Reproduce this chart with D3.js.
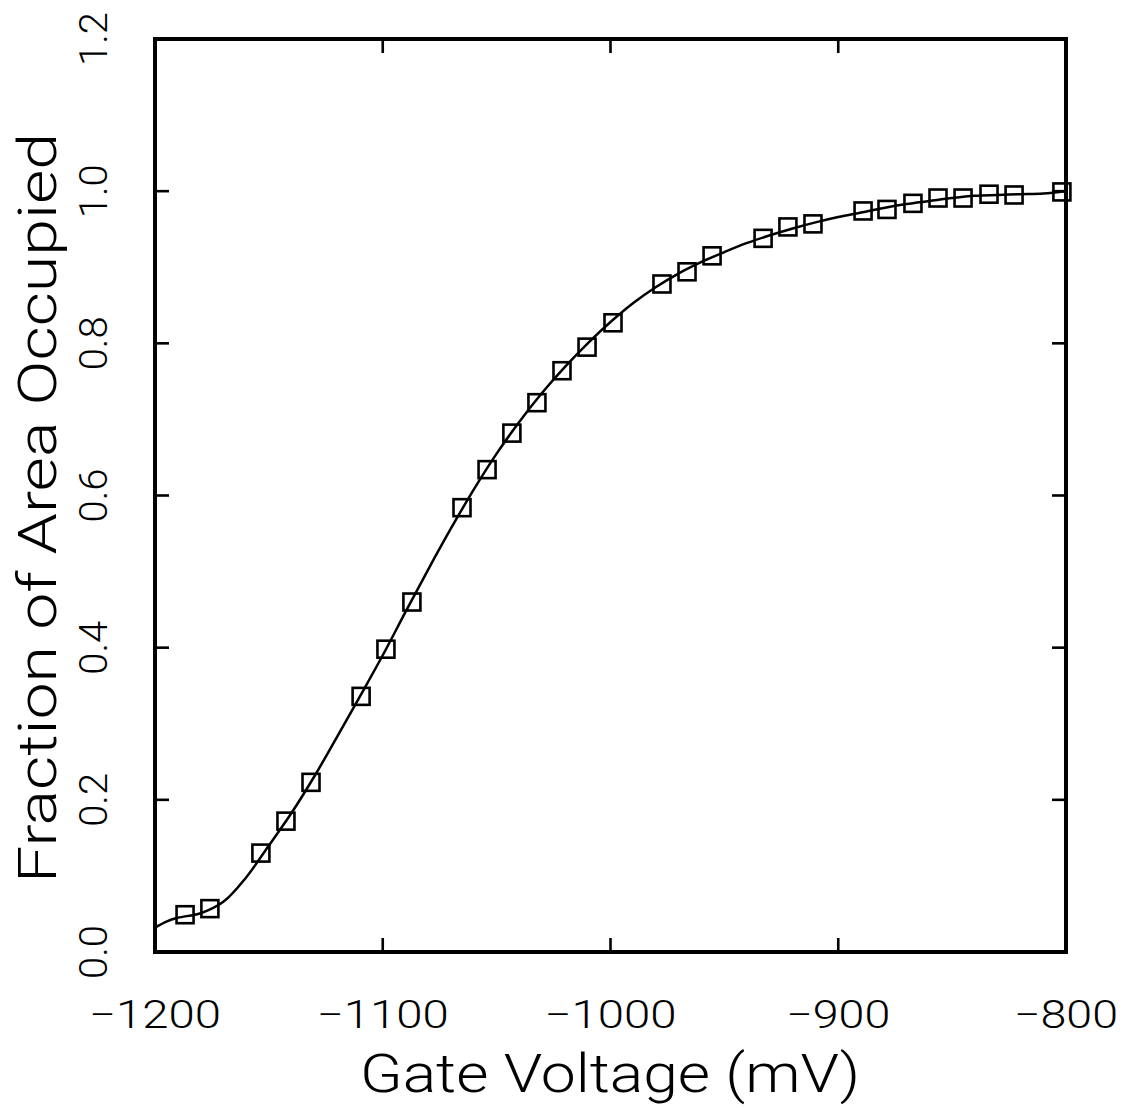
<!DOCTYPE html>
<html>
<head>
<meta charset="utf-8">
<script src="https://cdn.jsdelivr.net/npm/d3@7"></script>
<style>
  html, body { margin: 0; padding: 0; background: #fff; }
  svg { display: block; }
  text { font-family: Roboto, "DejaVu Sans", sans-serif; font-weight: 300; fill: #000; }
</style>
</head>
<body>
<svg id="chart" width="1134" height="1108"></svg>
<script>
// Measured gate voltages (mV) and fraction of area occupied
const voltage = [-1186.8, -1175.9, -1153.5, -1142.5, -1131.5, -1109.5, -1098.6, -1087.2,
  -1065.2, -1054.2, -1043.3, -1032.3, -1021.3, -1010.3, -998.9, -977.4, -966.4, -955.4,
  -933.0, -922.1, -911.1, -889.1, -878.6, -867.2, -856.2, -845.2, -833.8, -822.8, -801.8];
const fraction = [0.049, 0.057, 0.130, 0.172, 0.223, 0.336, 0.398, 0.460,
  0.584, 0.634, 0.682, 0.722, 0.764, 0.795, 0.827, 0.878, 0.894, 0.915,
  0.938, 0.953, 0.957, 0.974, 0.976, 0.984, 0.991, 0.991, 0.996, 0.995, 0.999];

// Smooth fitted curve through the measurements
const fitVoltage = [-1200, -1195, -1190, -1180, -1170, -1160, -1150, -1140, -1130, -1120,
  -1110, -1100, -1090, -1080, -1070, -1060, -1050, -1040, -1030, -1020, -1010, -1000,
  -990, -980, -970, -960, -950, -940, -930, -920, -910, -900, -890, -880, -870, -860,
  -850, -840, -830, -820, -810, -800];
const fitFraction = [0.032, 0.040, 0.045, 0.051, 0.066, 0.098, 0.140, 0.183, 0.231, 0.283,
  0.336, 0.390, 0.447, 0.503, 0.557, 0.608, 0.655, 0.697, 0.735, 0.769, 0.800, 0.828,
  0.853, 0.874, 0.892, 0.907, 0.920, 0.932, 0.942, 0.951, 0.959, 0.966, 0.972, 0.978,
  0.983, 0.987, 0.991, 0.994, 0.995, 0.996, 0.997, 1.000];

const xTicks = [-1200, -1100, -1000, -900, -800];
const yTicks = [0.0, 0.2, 0.4, 0.6, 0.8, 1.0, 1.2];
const xTitle = "Gate Voltage (mV)";
const yTitle = "Fraction of Area Occupied";

const plotL = 155, plotR = 1066, plotT = 39, plotB = 952;
const svg = d3.select("#chart");

const x = d3.scaleLinear().domain([-1200, -800]).range([plotL, plotR]);
const y = d3.scaleLinear().domain([0, 1.2]).range([plotB, plotT]);

const fmtX = d3.format(".0f");
const fmtY = d3.format(".1f");
const minus = s => s.replace("-", "\u2212");

// Tick marks on all four sides
const tickLen = 14;
const g = svg.append("g").attr("stroke", "#000").attr("stroke-width", 2.6);
xTicks.slice(1, -1).forEach(v => {
  g.append("line").attr("x1", x(v)).attr("x2", x(v)).attr("y1", plotB).attr("y2", plotB - tickLen);
  g.append("line").attr("x1", x(v)).attr("x2", x(v)).attr("y1", plotT).attr("y2", plotT + tickLen);
});
yTicks.slice(1, -1).forEach(v => {
  g.append("line").attr("x1", plotL).attr("x2", plotL + tickLen).attr("y1", y(v)).attr("y2", y(v));
  g.append("line").attr("x1", plotR).attr("x2", plotR - tickLen).attr("y1", y(v)).attr("y2", y(v));
});

// Fitted curve
const line = d3.line().x((d, i) => x(fitVoltage[i])).y(d => y(d)).curve(d3.curveCatmullRom.alpha(0.5));
svg.append("path").datum(fitFraction)
  .attr("d", line).attr("fill", "none").attr("stroke", "#000").attr("stroke-width", 2.5);

// Square markers
const sq = 17;
svg.append("g").selectAll("rect").data(fraction).join("rect")
  .attr("x", (d, i) => x(voltage[i]) - sq / 2)
  .attr("y", d => y(d) - sq / 2)
  .attr("width", sq).attr("height", sq)
  .attr("fill", "none").attr("stroke", "#000").attr("stroke-width", 2.6);

// Frame
svg.append("rect").attr("x", plotL).attr("y", plotT)
  .attr("width", plotR - plotL).attr("height", plotB - plotT)
  .attr("fill", "none").attr("stroke", "#000").attr("stroke-width", 4);

// Tick labels
svg.append("g").selectAll("text").data(xTicks).join("text")
  .attr("x", d => x(d)).attr("y", 1028)
  .attr("text-anchor", "middle").attr("font-size", 38)
  .attr("textLength", d => String(d).length < 5 ? 104 : 132).attr("lengthAdjust", "spacingAndGlyphs")
  .text(d => minus(fmtX(d)));

svg.append("g").selectAll("text").data(yTicks).join("text")
  .attr("transform", d => `translate(107,${y(d)}) rotate(-90)`)
  .attr("text-anchor", "middle").attr("font-size", 39)
  .attr("textLength", 54).attr("lengthAdjust", "spacingAndGlyphs")
  .text(d => fmtY(d));

// Axis titles
svg.append("text").attr("x", 610).attr("y", 1092)
  .attr("text-anchor", "middle").attr("font-size", 54)
  .attr("textLength", 500).attr("lengthAdjust", "spacingAndGlyphs")
  .text(xTitle);

svg.append("text").attr("transform", "translate(56,508) rotate(-90)")
  .attr("text-anchor", "middle").attr("font-size", 54)
  .attr("textLength", 750).attr("lengthAdjust", "spacingAndGlyphs")
  .text(yTitle);
</script>
</body>
</html>
